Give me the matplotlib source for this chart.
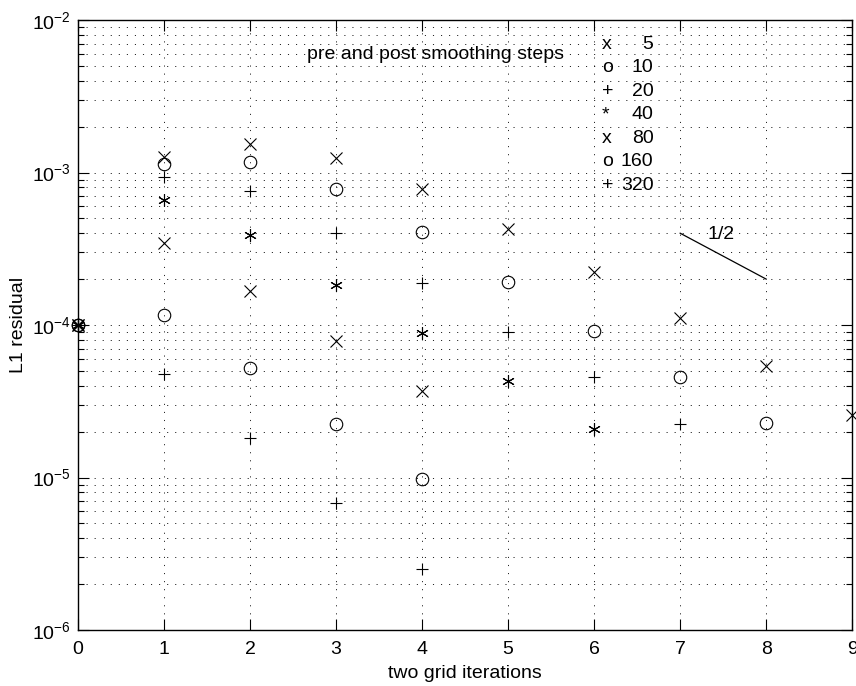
import matplotlib
matplotlib.use("Agg")
import matplotlib.pyplot as plt
from matplotlib.ticker import LogLocator, NullFormatter

plt.rcParams["font.family"] = ["Liberation Sans", "DejaVu Sans"]
plt.rcParams["mathtext.default"] = "regular"
plt.rcParams["lines.scale_dashes"] = False

# residuals per series (pre and post smoothing steps), iteration 0..n
steps = [5, 10, 20, 40, 80, 160, 320]
markers = ["x", "o", "+", (6, 2, 0), "x", "o", "+"]
sym = ["x", "o", "+", "*", "x", "o", "+"]

res_5 = [1e-4, 1.27e-3, 1.55e-3, 1.24e-3, 7.76e-4, 4.24e-4, 2.24e-4, 1.12e-4, 5.38e-5, 2.56e-5]
res_10 = [1e-4, 1.13e-3, 1.18e-3, 7.84e-4, 4.06e-4, 1.91e-4, 9.14e-5, 4.56e-5, 2.29e-5]
res_20 = [1e-4, 9.4e-4, 7.57e-4, 4.0e-4, 1.88e-4, 9.06e-5, 4.56e-5, 2.25e-5]
res_40 = [1e-4, 6.6e-4, 3.92e-4, 1.84e-4, 8.9e-5, 4.3e-5, 2.07e-5]
res_80 = [1e-4, 3.44e-4, 1.68e-4, 7.85e-5, 3.69e-5]
res_160 = [1e-4, 1.17e-4, 5.2e-5, 2.26e-5, 9.84e-6]
res_320 = [1e-4, 4.78e-5, 1.81e-5, 6.78e-6, 2.51e-6]
residuals = [res_5, res_10, res_20, res_40, res_80, res_160, res_320]

# slope guide
slope_x = [7, 8]
slope_y = [4e-4, 2e-4]

fs = 14
fig = plt.figure(figsize=(8.56, 6.86), dpi=100)
ax = fig.add_axes([0.0911, 0.0816, 0.9045, 0.8892])

for r, m in zip(residuals, markers):
    ax.plot(range(len(r)), r, linestyle="none", marker=m, color="black",
            markersize=9, markeredgewidth=0.8, markerfacecolor="none",
            clip_on=False)

ax.plot(slope_x, slope_y, color="black", linewidth=0.9)
ax.text(7.32, 3.95e-4, "1/2", fontsize=fs, va="center", ha="left")

ax.set_yscale("log")
ax.set_xlim(0, 9)
ax.set_ylim(1e-6, 1e-2)
ax.set_xticks(range(10))
ax.yaxis.set_major_locator(LogLocator(base=10, numticks=10))
ax.yaxis.set_minor_locator(LogLocator(base=10, subs=range(2, 10), numticks=20))
ax.yaxis.set_minor_formatter(NullFormatter())

ax.tick_params(which="both", direction="in", top=True, right=True,
               labelsize=fs, width=0.8)
ax.tick_params(which="major", length=8)
ax.tick_params(which="minor", length=4)
ax.tick_params(axis="x", pad=8)
ax.tick_params(axis="y", pad=5)

grid_style = dict(color="black", linewidth=0.6, linestyle=(0, (0.8, 5)))
ax.grid(True, which="major", axis="both", **grid_style)
ax.grid(True, which="minor", axis="y", **grid_style)

for s in ax.spines.values():
    s.set_linewidth(1.0)

ax.set_xlabel("two grid iterations", fontsize=fs, labelpad=5)
ax.set_ylabel("L1 residual", fontsize=fs, labelpad=4)

ax.text(2.66, 5.96e-3, "pre and post smoothing steps", fontsize=fs,
        va="center", ha="left")

for i, (s, c) in enumerate(zip(steps, sym)):
    y = 10 ** (-2 - (45 + 23.5 * i - 20.7) / 152.5)
    ax.text(6.09, y, c, fontsize=fs, va="center", ha="left")
    ax.text(6.69, y, str(s), fontsize=fs, va="center", ha="right")

fig.savefig("out.png", dpi=100)
